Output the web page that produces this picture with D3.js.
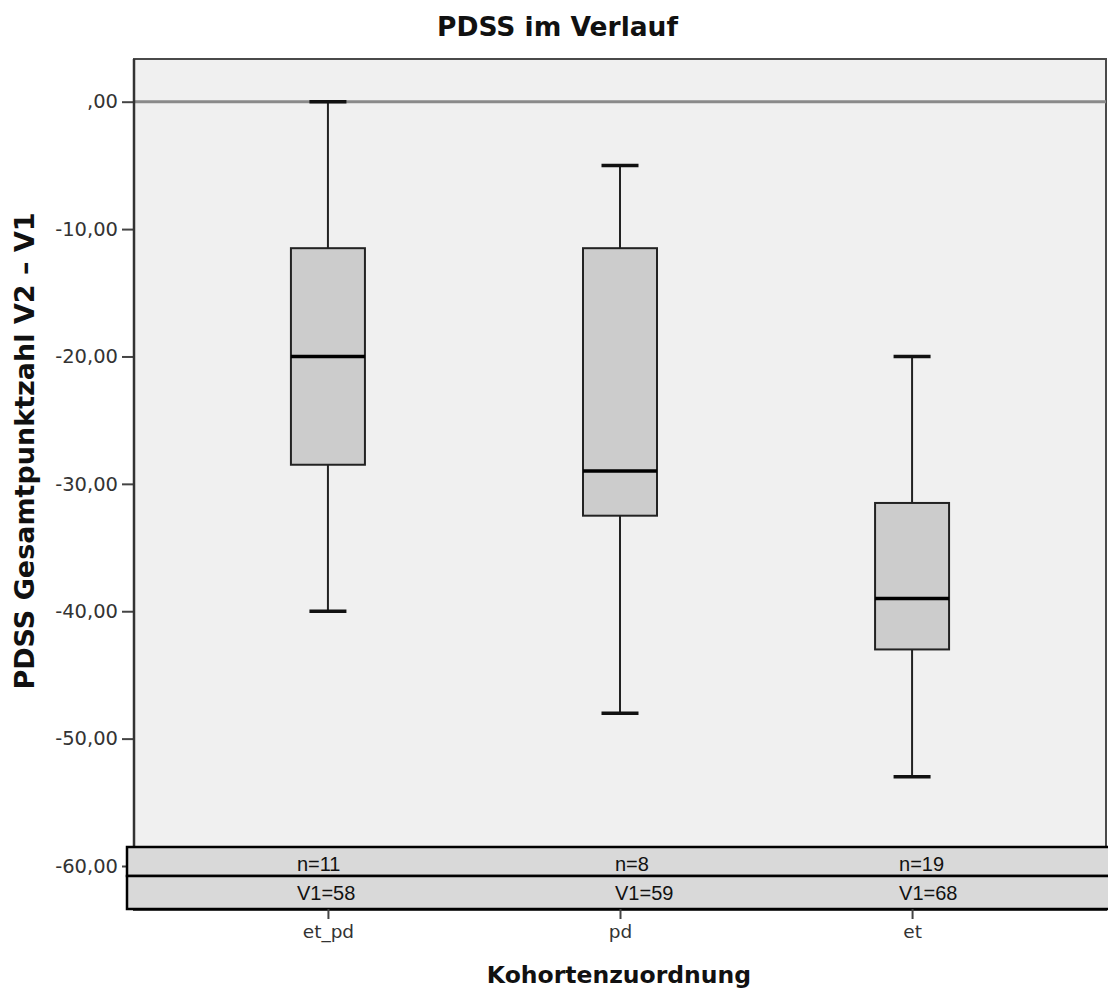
<!DOCTYPE html>
<html>
<head>
<meta charset="utf-8">
<script src="https://cdn.jsdelivr.net/npm/d3@7"></script>
<style>
  html, body { margin: 0; padding: 0; background: #fff; }
  svg { display: block; }
</style>
</head>
<body>
<script>
// Cohorts and box-plot summaries (PDSS change V2 - V1)
const categories = ["et_pd", "pd", "et"];
const whiskerHigh = [0, -5, -20];
const q3 = [-11.5, -11.5, -31.5];
const median = [-20, -29, -39];
const q1 = [-28.5, -32.5, -43];
const whiskerLow = [-40, -48, -53];
// Table rows beneath the plot
const nLabels = ["n=11", "n=8", "n=19"];
const v1Labels = ["V1=58", "V1=59", "V1=68"];
// Y axis tick values
const yTicks = [0, -10, -20, -30, -40, -50, -60];

const W = 1108, H = 989;
const plot = { left: 134, right: 1106, top: 59, bottom: 910 };
const table = { left: 127, right: 1108, top: 847, mid: 876, bottom: 909 };
const textDx = [-31, -5, -13];

const svg = d3.select("body").append("svg")
  .attr("width", W).attr("height", H);

svg.append("rect").attr("width", W).attr("height", H).attr("fill", "#fff");

const y = d3.scaleLinear().domain([0, -60]).range([101.7, 866]);
const x = d3.scalePoint().domain(categories)
  .range([plot.left, plot.right]).padding(0.664);

// plot background
svg.append("rect")
  .attr("x", plot.left).attr("y", plot.top)
  .attr("width", plot.right - plot.left).attr("height", plot.bottom - plot.top)
  .attr("fill", "#f0f0f0").attr("stroke", "#4a4a4a").attr("stroke-width", 2);

// reference line at zero
svg.append("line")
  .attr("x1", plot.left).attr("x2", plot.right)
  .attr("y1", y(0)).attr("y2", y(0))
  .attr("stroke", "#8a8a8a").attr("stroke-width", 3);

// y axis
const locale = d3.formatLocale({ decimal: ",", thousands: ".", grouping: [3], currency: ["", ""], minus: "-" });
const f2 = locale.format(".2f");
const fmt = v => f2(v).replace(/^(-?)0,/, "$1,");

const yAxis = svg.append("g")
  .attr("transform", `translate(${plot.left},0)`)
  .call(d3.axisLeft(y).tickValues(yTicks).tickFormat(fmt).tickSize(12).tickPadding(4));
yAxis.select(".domain").remove();
yAxis.selectAll(".tick line").attr("stroke", "#444").attr("stroke-width", 2);
yAxis.selectAll(".tick text")
  .attr("fill", "#333").style("font-family", "DejaVu Sans").style("font-size", "19.5px");

svg.append("line")
  .attr("x1", plot.left).attr("x2", plot.left)
  .attr("y1", plot.top).attr("y2", plot.bottom)
  .attr("stroke", "#333").attr("stroke-width", 2.5);

// boxes
const boxW = 74, capW = 37;
const g = svg.append("g");
categories.forEach((c, i) => {
  const cx = x(c);
  g.append("line").attr("x1", cx).attr("x2", cx)
    .attr("y1", y(whiskerHigh[i])).attr("y2", y(q3[i]))
    .attr("stroke", "#222").attr("stroke-width", 2);
  g.append("line").attr("x1", cx).attr("x2", cx)
    .attr("y1", y(q1[i])).attr("y2", y(whiskerLow[i]))
    .attr("stroke", "#222").attr("stroke-width", 2);
  [whiskerHigh[i], whiskerLow[i]].forEach(v => {
    g.append("line").attr("x1", cx - capW / 2).attr("x2", cx + capW / 2)
      .attr("y1", y(v)).attr("y2", y(v))
      .attr("stroke", "#111").attr("stroke-width", 3.5);
  });
  g.append("rect")
    .attr("x", cx - boxW / 2).attr("y", y(q3[i]))
    .attr("width", boxW).attr("height", y(q1[i]) - y(q3[i]))
    .attr("fill", "#cccccc").attr("stroke", "#222").attr("stroke-width", 2);
  g.append("line").attr("x1", cx - boxW / 2).attr("x2", cx + boxW / 2)
    .attr("y1", y(median[i])).attr("y2", y(median[i]))
    .attr("stroke", "#000").attr("stroke-width", 3.5);
});

// table under the plot
const tg = svg.append("g");
[[table.top, table.mid], [table.mid, table.bottom]].forEach(([a, b]) => {
  tg.append("rect").attr("x", table.left).attr("y", a)
    .attr("width", table.right - table.left + 4).attr("height", b - a)
    .attr("fill", "#d9d9d9").attr("stroke", "#000").attr("stroke-width", 2.5);
});
categories.forEach((c, i) => {
  tg.append("text").attr("x", x(c) + textDx[i]).attr("y", table.mid - 5)
    .style("font-family", "Liberation Sans").style("font-size", "20px")
    .attr("fill", "#111").text(nLabels[i]);
  tg.append("text").attr("x", x(c) + textDx[i]).attr("y", table.bottom - 9)
    .style("font-family", "Liberation Sans").style("font-size", "20px")
    .attr("fill", "#111").text(v1Labels[i]);
});

// x axis ticks and labels
const xAxis = svg.append("g")
  .attr("transform", `translate(0,${table.bottom})`)
  .call(d3.axisBottom(x).tickSize(10).tickPadding(6));
xAxis.select(".domain").remove();
xAxis.selectAll(".tick line").attr("stroke", "#444").attr("stroke-width", 2);
xAxis.selectAll(".tick text")
  .attr("fill", "#333").style("font-family", "DejaVu Sans").style("font-size", "18.5px");

// titles
svg.append("text").attr("x", 557.5).attr("y", 36).attr("text-anchor", "middle")
  .style("font-family", "DejaVu Sans").style("font-weight", "bold").style("font-size", "26.5px")
  .attr("fill", "#111").text("PDSS im Verlauf");

svg.append("text").attr("x", 619).attr("y", 983).attr("text-anchor", "middle")
  .style("font-family", "DejaVu Sans").style("font-weight", "bold").style("font-size", "23.5px")
  .attr("fill", "#111").text("Kohortenzuordnung");

svg.append("text")
  .attr("transform", `translate(34,451) rotate(-90)`).attr("text-anchor", "middle")
  .style("font-family", "DejaVu Sans").style("font-weight", "bold").style("font-size", "27px")
  .attr("fill", "#111").text("PDSS Gesamtpunktzahl V2 – V1");
</script>
</body>
</html>
